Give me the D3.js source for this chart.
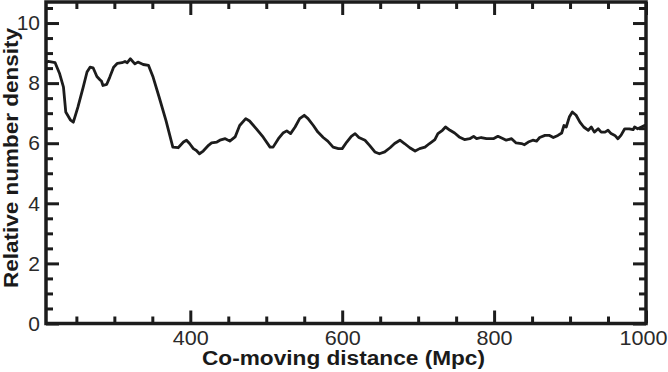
<!DOCTYPE html>
<html><head><meta charset="utf-8">
<script src="https://cdn.jsdelivr.net/npm/d3@7"></script>
<style>html,body{margin:0;padding:0;background:#fff;}svg{display:block;}</style>
</head><body>
<svg id="chart" width="668" height="372"></svg>
<script>
const distance = [211,213,222,228,233,236,242,246,252,259,264,268,272,277,281,283,285,290,294,299,304,310,314,317,321,327,331,338,345,351,359,368,377,384,391,395,399,404,408,412,417,424,428,435,439,446,452,459,465,473,478,487,496,505,509,516,522,527,532,538,544,550,555,562,568,575,581,588,595,600,606,612,617,622,630,636,643,649,656,663,669,676,682,689,696,702,709,715,722,726,732,736,742,748,754,761,768,773,777,783,790,799,805,812,816,823,829,836,840,845,851,856,860,867,873,878,884,889,892,895,899,903,908,913,918,924,928,932,937,941,946,950,954,959,963,967,972,978,983,985,989,994,998];
const density = [8.70,8.72,8.68,8.31,7.87,7.04,6.78,6.70,7.20,7.87,8.37,8.53,8.51,8.22,8.11,8.07,7.92,7.96,8.20,8.53,8.66,8.68,8.72,8.68,8.81,8.64,8.70,8.62,8.59,8.20,7.53,6.75,5.87,5.85,6.04,6.10,5.99,5.82,5.76,5.65,5.74,5.93,6.01,6.04,6.10,6.15,6.07,6.21,6.59,6.82,6.74,6.48,6.20,5.87,5.87,6.15,6.34,6.41,6.32,6.54,6.82,6.93,6.82,6.59,6.37,6.19,6.07,5.87,5.82,5.82,6.04,6.23,6.32,6.19,6.10,5.93,5.71,5.65,5.71,5.85,5.99,6.10,5.99,5.85,5.74,5.82,5.87,5.99,6.12,6.32,6.43,6.54,6.43,6.34,6.21,6.12,6.15,6.23,6.15,6.19,6.15,6.15,6.23,6.15,6.10,6.15,6.01,5.99,5.95,6.04,6.10,6.07,6.19,6.26,6.26,6.19,6.26,6.34,6.59,6.54,6.87,7.04,6.93,6.70,6.54,6.43,6.54,6.37,6.48,6.37,6.37,6.43,6.32,6.26,6.15,6.26,6.48,6.48,6.45,6.54,6.48,6.54,6.59];
const xMajorTicks = [400,600,800,1000];
const xMinorTicks = [250,300,350,450,500,550,650,700,750,850,900,950];
const yMajorTicks = [0,2,4,6,8,10];
const yMinorTicks = [0.5,1,1.5,2.5,3,3.5,4.5,5,5.5,6.5,7,7.5,8.5,9,9.5,10.5];
const xTitle = "Co-moving distance (Mpc)";
const yTitle = "Relative number density";

const W = 668, H = 372;
const m = {left:46, right:22, top:2, bottom:48.5};
const iw = W - m.left - m.right, ih = H - m.top - m.bottom;
const svg = d3.select("#chart");
const g = svg.append("g").attr("transform", `translate(${m.left},${m.top})`);
const x = d3.scaleLinear().domain([210,1000]).range([0, iw]);
const y = d3.scaleLinear().domain([0,10.7]).range([ih, 0]);
const ink = "#1c1c1c";
const tickFont = "'Liberation Sans', Arial, sans-serif";

function styleAxis(sel, width) {
  sel.select(".domain").remove();
  sel.selectAll(".tick line").attr("stroke", ink).attr("stroke-width", width);
  sel.selectAll(".tick text").attr("fill", "#2a2a2a").style("font-family", tickFont).style("font-size", "20px");
}
// bottom
const xLab = g.append("g").attr("transform", `translate(0,${ih})`)
  .call(d3.axisBottom(x).tickValues(xMajorTicks).tickSize(-13).tickPadding(7).tickFormat(d3.format("d")))
  .call(s => styleAxis(s, 3));
xLab.selectAll(".tick text").attr("textLength", d => String(d).length * 12).attr("lengthAdjust", "spacingAndGlyphs");
xLab.selectAll(".tick text").filter(d => d === 1000).attr("text-anchor", "end").attr("x", W - m.left - x(1000) - 1);
g.append("g").attr("transform", `translate(0,${ih})`)
  .call(d3.axisBottom(x).tickValues(xMinorTicks).tickSize(-7).tickFormat(""))
  .call(s => styleAxis(s, 3));
// top
g.append("g").call(d3.axisTop(x).tickValues(xMajorTicks).tickSize(-13).tickFormat(""))
  .call(s => styleAxis(s, 3));
g.append("g").call(d3.axisTop(x).tickValues(xMinorTicks).tickSize(-7).tickFormat(""))
  .call(s => styleAxis(s, 3));
// left
const yLab = g.append("g").call(d3.axisLeft(y).tickValues(yMajorTicks).tickSize(-13).tickPadding(6).tickFormat(d3.format("d")))
  .call(s => styleAxis(s, 3));
yLab.selectAll(".tick text").style("font-size", "21px");
g.append("g").call(d3.axisLeft(y).tickValues(yMinorTicks).tickSize(-7).tickFormat(""))
  .call(s => styleAxis(s, 3));
// right
g.append("g").attr("transform", `translate(${iw},0)`)
  .call(d3.axisRight(y).tickValues(yMajorTicks).tickSize(-13).tickFormat(""))
  .call(s => styleAxis(s, 3));
g.append("g").attr("transform", `translate(${iw},0)`)
  .call(d3.axisRight(y).tickValues(yMinorTicks).tickSize(-7).tickFormat(""))
  .call(s => styleAxis(s, 3));

// frame
g.append("rect").attr("x",0).attr("y",0).attr("width",iw).attr("height",ih)
  .attr("fill","none").attr("stroke",ink).attr("stroke-width",3.5);

// curve
const pts = distance.map((d,i)=>[d, density[i]]);
g.append("path").datum(pts)
  .attr("fill","none").attr("stroke",ink).attr("stroke-width",2.8)
  .attr("stroke-linejoin","round").attr("stroke-linecap","round")
  .attr("d", d3.line().x(d=>x(d[0])).y(d=>y(d[1])));

// titles
svg.append("text").attr("x", 202).attr("y", 365)
  .attr("textLength", 283).attr("lengthAdjust","spacingAndGlyphs")
  .style("font-family", tickFont).style("font-weight","bold").style("font-size","20px").attr("fill","#1a1a1a")
  .text(xTitle);
svg.append("text").attr("transform","translate(18,288) rotate(-90)")
  .attr("textLength", 260).attr("lengthAdjust","spacingAndGlyphs")
  .style("font-family", tickFont).style("font-weight","bold").style("font-size","20px").attr("fill","#1a1a1a")
  .text(yTitle);
</script>
</body></html>
